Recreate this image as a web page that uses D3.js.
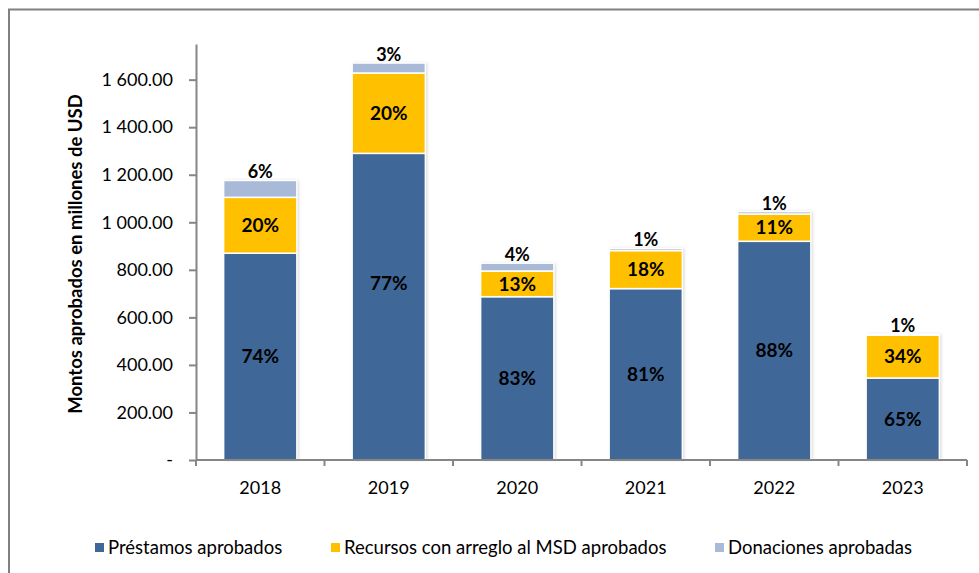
<!DOCTYPE html>
<html>
<head>
<meta charset="utf-8">
<script src="https://cdnjs.cloudflare.com/ajax/libs/d3/7.8.5/d3.min.js"></script>
<style>
  body { margin: 0; background: #fff; }
  text { font-family: Lato, "Open Sans", sans-serif; fill: #000; }
</style>
</head>
<body>
<div id="chart"></div>
<script>
// values in millions of USD
const years = ['2018', '2019', '2020', '2021', '2022', '2023'];
const loans = [870, 1290, 687, 721, 920, 345];
const msd = [235, 338, 108, 160, 115, 180];
const grants = [71, 42, 33, 9, 10, 5];

// percentage labels as printed on the bars
const loansPct = ['74%', '77%', '83%', '81%', '88%', '65%'];
const msdPct = ['20%', '20%', '13%', '18%', '11%', '34%'];
const grantsPct = ['6%', '3%', '4%', '1%', '1%', '1%'];

const yTicks = [0, 200, 400, 600, 800, 1000, 1200, 1400, 1600];

const seriesNames = ['Préstamos aprobados', 'Recursos con arreglo al MSD aprobados', 'Donaciones aprobadas'];
const colors = ['#3F6899', '#FFC000', '#A9BAD8'];

const width = 979;
const height = 573;
const margin = { top: 44, right: 12, bottom: 113, left: 196 };

const rows = years.map((y, i) => ({ year: y, loans: loans[i], msd: msd[i], grants: grants[i] }));
const keys = ['loans', 'msd', 'grants'];
const labels = { loans: loansPct, msd: msdPct, grants: grantsPct };

const svg = d3.select('#chart').append('svg')
  .attr('width', width)
  .attr('height', height);

const defs = svg.append('defs');
const shadow = defs.append('filter').attr('id', 'shadow')
  .attr('x', '-20%').attr('y', '-5%').attr('width', '140%').attr('height', '110%');
shadow.append('feDropShadow')
  .attr('dx', 1.5).attr('dy', 0).attr('stdDeviation', 1.5)
  .attr('flood-color', '#000').attr('flood-opacity', 0.18);

// outer frame (top and left visible)
svg.append('path')
  .attr('d', `M9,${height + 5}V9.5H${width + 5}`)
  .attr('fill', 'none')
  .attr('stroke', '#808080')
  .attr('stroke-width', 2);

const x = d3.scaleBand()
  .domain(years)
  .range([margin.left, width - margin.right])
  .paddingInner(0.43)
  .paddingOuter(0.215);

const y = d3.scaleLinear()
  .domain([0, 1750])
  .range([height - margin.bottom, margin.top]);

const stacked = d3.stack().keys(keys)(rows);

const g = svg.append('g');

const layers = g.selectAll('.layer')
  .data(stacked)
  .enter().append('g')
    .attr('class', 'layer')
    .attr('fill', (d, i) => colors[i]);

// shadows behind the bars
g.insert('g', '.layer')
  .selectAll('rect')
  .data(rows)
  .enter().append('rect')
    .attr('x', d => x(d.year))
    .attr('width', x.bandwidth())
    .attr('y', d => y(d.loans + d.msd + d.grants))
    .attr('height', d => y(0) - y(d.loans + d.msd + d.grants))
    .attr('fill', '#fff')
    .attr('filter', 'url(#shadow)');

layers.selectAll('rect')
  .data(d => d)
  .enter().append('rect')
    .attr('x', d => x(d.data.year))
    .attr('width', x.bandwidth())
    .attr('y', d => y(d[1]))
    .attr('height', d => y(d[0]) - y(d[1]))
    .attr('stroke', '#fff')
    .attr('stroke-width', 1.5);

// the 2019 loan label was dragged up a little in the original
const nudge = { '2019': -23 };

// labels inside the loan and msd segments
['loans', 'msd'].forEach((k, ki) => {
  g.selectAll('.lbl-' + k)
    .data(stacked[ki])
    .enter().append('text')
      .attr('class', 'lbl-' + k)
      .attr('x', d => x(d.data.year) + x.bandwidth() / 2)
      .attr('y', d => (y(d[0]) + y(d[1])) / 2 + (k === 'loans' ? (nudge[d.data.year] || 0) : 0))
      .attr('dy', '0.35em')
      .attr('text-anchor', 'middle')
      .attr('font-size', 19)
      .attr('font-weight', 'bold')
      .text((d, i) => labels[k][i]);
});

// grant labels sit above the bar
g.selectAll('.lbl-grants')
  .data(stacked[2])
  .enter().append('text')
    .attr('class', 'lbl-grants')
    .attr('x', d => x(d.data.year) + x.bandwidth() / 2)
    .attr('y', d => y(d[1]) - 2)
    .attr('text-anchor', 'middle')
    .attr('font-size', 18)
    .attr('font-weight', 'bold')
    .text((d, i) => grantsPct[i]);

// y axis
const fmt = v => v === 0 ? '-' : d3.format(',.2f')(v).replace(/,/g, ' ');
const yAxis = svg.append('g')
  .attr('transform', `translate(${margin.left},0)`)
  .call(d3.axisLeft(y).tickValues(yTicks).tickSize(7).tickPadding(16).tickFormat(fmt).tickSizeOuter(0));
yAxis.select('.domain').attr('stroke', '#868686').attr('stroke-width', 2);
yAxis.selectAll('.tick line').attr('stroke', '#868686').attr('stroke-width', 2);
yAxis.selectAll('.tick text')
  .attr('font-size', 18)
  .attr('font-family', 'Lato, sans-serif')
  .attr('fill', '#222');

// x axis with ticks at the category boundaries
const xAxisG = svg.append('g')
  .attr('transform', `translate(0,${y(0)})`);
const bounds = [margin.left].concat(years.map(yr => x(yr) + x.bandwidth() + x.step() * x.paddingInner() / 2));
xAxisG.append('line')
  .attr('x1', margin.left).attr('x2', width - margin.right)
  .attr('stroke', '#868686').attr('stroke-width', 2);
xAxisG.selectAll('.xtick')
  .data(bounds)
  .enter().append('line')
    .attr('class', 'xtick')
    .attr('x1', d => d).attr('x2', d => d)
    .attr('y1', 0).attr('y2', 6)
    .attr('stroke', '#868686').attr('stroke-width', 2);
xAxisG.selectAll('.xlabel')
  .data(years)
  .enter().append('text')
    .attr('class', 'xlabel')
    .attr('x', d => x(d) + x.bandwidth() / 2)
    .attr('y', 34)
    .attr('text-anchor', 'middle')
    .attr('font-size', 18)
    .attr('fill', '#222')
    .text(d => d);

// axis title
svg.append('text')
  .attr('transform', `translate(82,${(y(0) + margin.top) / 2 + 2}) rotate(-90)`)
  .attr('text-anchor', 'middle')
  .attr('font-size', 18.5)
  .attr('font-weight', 'bold')
  .text('Montos aprobados en millones de USD');

// legend
const legendX = [95, 331, 715];
const legend = svg.append('g')
  .selectAll('g')
  .data(seriesNames)
  .enter().append('g')
    .attr('transform', (d, i) => `translate(${legendX[i]},548)`);
legend.append('rect')
  .attr('x', 0).attr('y', -5)
  .attr('width', 9).attr('height', 9)
  .attr('fill', (d, i) => colors[i]);
legend.append('text')
  .attr('x', 13)
  .attr('dy', '0.35em')
  .attr('font-size', 18.5)
  .attr('fill', '#222')
  .text(d => d);
</script>
</body>
</html>
